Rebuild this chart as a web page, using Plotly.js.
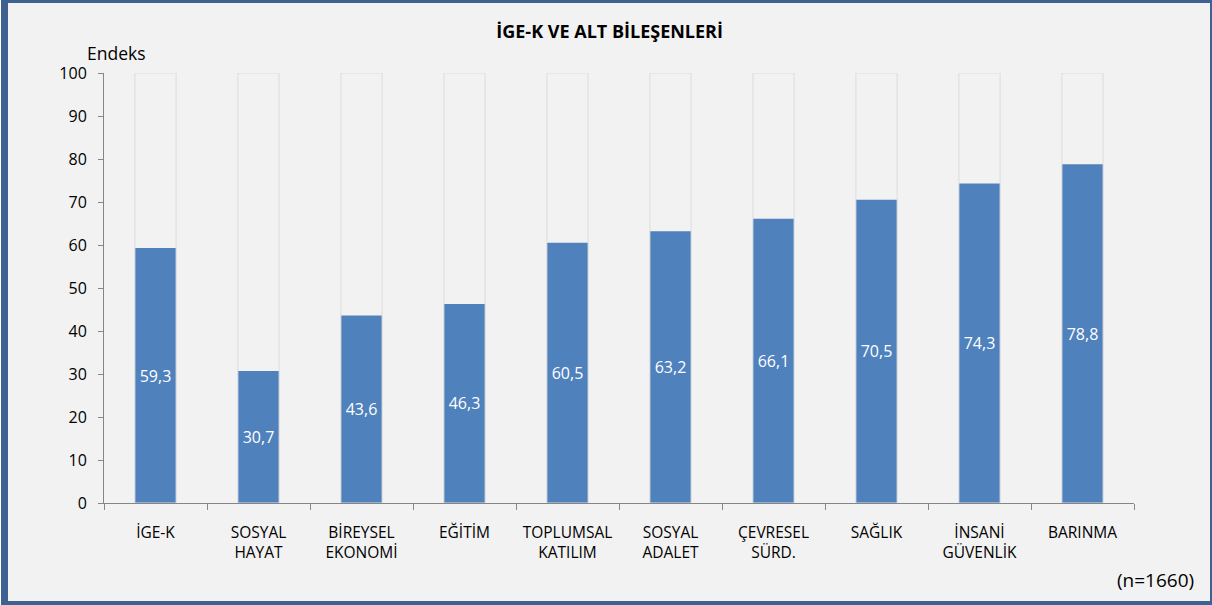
<!DOCTYPE html>
<html>
<head>
<meta charset="utf-8">
<script src="https://cdn.plot.ly/plotly-3.0.1.min.js"></script>
<style>
  html, body { margin: 0; padding: 0; background: #ffffff; width: 1212px; height: 605px; overflow: hidden; }
  #frame { position: absolute; left: 1px; top: 0px; width: 1202px; height: 598px;
           border-left: 7px solid #3d6190; border-top: 3px solid #3d6190;
           border-right: 2px solid #3d6190; border-bottom: 4px solid #3d6190;
           background: #f2f2f2; }
  #chart { position: absolute; left: 0; top: 0; width: 1212px; height: 605px; }
</style>
</head>
<body>
<div id="frame"></div>
<div id="chart"></div>
<script>
const categories = ["İGE-K", "SOSYAL<br>HAYAT", "BİREYSEL<br>EKONOMİ", "EĞİTİM", "TOPLUMSAL<br>KATILIM",
                    "SOSYAL<br>ADALET", "ÇEVRESEL<br>SÜRD.", "SAĞLIK", "İNSANİ<br>GÜVENLİK", "BARINMA"];
const indexValues = [59.3, 30.7, 43.6, 46.3, 60.5, 63.2, 66.1, 70.5, 74.3, 78.8];
const fullScale = [100, 100, 100, 100, 100, 100, 100, 100, 100, 100];
const yTicks = [0, 10, 20, 30, 40, 50, 60, 70, 80, 90, 100];

const FONT = "'Open Sans', 'Noto Sans', sans-serif";

const traces = [
  {
    type: "bar",
    x: categories,
    y: indexValues,
    width: 0.4,
    marker: { color: "#4f81bd", line: { width: 0 } },
    texttemplate: "%{y:.1f}",
    textposition: "inside",
    insidetextanchor: "middle",
    textangle: 0,
    textfont: { family: FONT, size: 16, color: "#ffffff" },
    hoverinfo: "x+y",
    showlegend: false
  },
  {
    type: "bar",
    x: categories,
    y: fullScale,
    width: 0.4,
    marker: { color: "rgba(0,0,0,0)", line: { color: "#dcdcdc", width: 1 } },
    hoverinfo: "skip",
    showlegend: false
  }
];

const layout = {
  width: 1212,
  height: 605,
  barmode: "overlay",
  separators: ",.",
  paper_bgcolor: "rgba(0,0,0,0)",
  plot_bgcolor: "rgba(0,0,0,0)",
  margin: { l: 104, r: 78, t: 73, b: 102 },
  font: { family: FONT, color: "#000000", size: 14 },
  title: {
    text: "<b>İGE-K VE ALT BİLEŞENLERİ</b>",
    font: { family: FONT, size: 18, color: "#000000" },
    x: 0.503, xanchor: "center",
    y: 1 - 32 / 605, yanchor: "middle",
    xref: "container", yref: "container"
  },
  xaxis: {
    type: "category",
    showgrid: false,
    showline: true,
    linecolor: "#868686",
    linewidth: 1,
    ticks: "outside",
    tickson: "boundaries",
    ticklen: 6,
    tickcolor: "#868686",
    ticklabelstandoff: 15,
    tickfont: { family: FONT, size: 15.5, color: "#000000" },
    zeroline: false,
    fixedrange: true
  },
  yaxis: {
    range: [0, 100],
    tickvals: yTicks,
    showgrid: false,
    showline: true,
    linecolor: "#868686",
    linewidth: 1,
    ticks: "outside",
    ticklen: 5,
    tickcolor: "#868686",
    ticklabelstandoff: 8,
    tickfont: { family: FONT, size: 16, color: "#000000" },
    zeroline: false,
    fixedrange: true
  },
  annotations: [
    {
      text: "Endeks",
      xref: "paper", yref: "paper",
      x: (85 - 104) / 1030, xanchor: "left",
      y: (503 - 53) / 430, yanchor: "middle",
      showarrow: false,
      font: { family: FONT, size: 17.5, color: "#000000" }
    },
    {
      text: "(n=1660)",
      xref: "paper", yref: "paper",
      x: (1196 - 104) / 1030, xanchor: "right",
      y: (503 - 580) / 430, yanchor: "middle",
      showarrow: false,
      font: { family: FONT, size: 19, color: "#000000" }
    }
  ]
};

Plotly.newPlot("chart", traces, layout, { displayModeBar: false, staticPlot: true });
</script>
</body>
</html>
